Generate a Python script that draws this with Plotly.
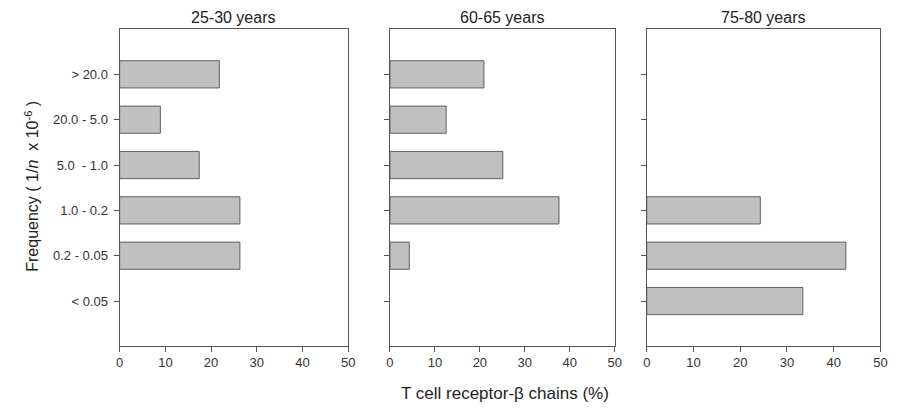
import plotly.graph_objects as go

categories = ["> 20.0", "20.0 - 5.0", "5.0\u00a0 - 1.0", "1.0 - 0.2", "0.2 - 0.05", "< 0.05"]
panel_titles = ["25-30 years", "60-65 years", "75-80 years"]
values_25_30 = [21.8, 8.9, 17.4, 26.3, 26.3, None]
values_60_65 = [20.9, 12.5, 25.1, 37.6, 4.3, None]
values_75_80 = [None, None, None, 24.3, 42.6, 33.4]
x_ticks = [0, 10, 20, 30, 40, 50]

series = [values_25_30, values_60_65, values_75_80]

# page body has an 8px margin on every side: keep the figure inside the window
OFF = 8
W, H = 905 - 2 * OFF, 411 - 2 * OFF
x_domains_px = [(117, 348.5), (390.7, 618.3), (650.7, 887.3)]
y_top_px, y_bot_px = 29, 345.5


def px_x(x):
    return (x - OFF) / W


def px_y(y):
    return 1 - (y - OFF) / H


FONT = "Liberation Sans, Arial, sans-serif"
BAR_FILL = "#c0c0c0"
BAR_LINE = "#606060"
AXIS_COLOR = "#555555"

fig = go.Figure()
layout = dict(
    width=W, height=H,
    margin=dict(l=0, r=0, t=0, b=0),
    paper_bgcolor="white", plot_bgcolor="white",
    showlegend=False,
    font=dict(family=FONT, color="#222222"),
)

annotations = []
for i, vals in enumerate(series):
    sfx = "" if i == 0 else str(i + 1)
    fig.add_trace(go.Bar(
        x=vals, y=categories, orientation="h",
        marker=dict(color=BAR_FILL, line=dict(color=BAR_LINE, width=1)),
        xaxis="x" + sfx, yaxis="y" + sfx, width=0.6,
    ))
    x0, x1 = x_domains_px[i]
    layout["xaxis" + sfx] = dict(
        domain=[px_x(x0), px_x(x1)], anchor="y" + sfx,
        range=[0, 50], tickvals=x_ticks, ticks="outside", ticklen=5,
        tickcolor=AXIS_COLOR, showline=True, linecolor=AXIS_COLOR, linewidth=1.2,
        mirror=True, showgrid=False, zeroline=False,
        tickfont=dict(size=13, color="#333333"),
    )
    layout["yaxis" + sfx] = dict(
        domain=[px_y(y_bot_px), px_y(y_top_px)], anchor="x" + sfx,
        type="category", categoryorder="array", categoryarray=categories,
        range=[5.98, -1.0], ticks="outside", ticklen=5, tickcolor=AXIS_COLOR,
        showline=True, linecolor=AXIS_COLOR, linewidth=1.2, mirror=True,
        showgrid=False, zeroline=False, showticklabels=(i == 0),
        tickfont=dict(size=13, color="#333333"), ticklabelstandoff=3,
    )
    annotations.append(dict(
        text=panel_titles[i], x=px_x((x0 + x1) / 2), y=px_y(17),
        xref="paper", yref="paper", showarrow=False,
        font=dict(size=16, color="#222222"), xanchor="center", yanchor="middle",
    ))

annotations.append(dict(
    text="T cell receptor-\u03b2 chains (%)", x=px_x(507), y=px_y(393),
    xref="paper", yref="paper", showarrow=False,
    font=dict(size=17, color="#222222"), xanchor="center", yanchor="middle",
))
annotations.append(dict(
    text="Frequency ( 1/<i>n</i>\u00a0 x 10<sup>-6</sup> )", x=px_x(28), y=px_y(186),
    xref="paper", yref="paper", showarrow=False, textangle=-90,
    font=dict(size=16, color="#222222"), xanchor="center", yanchor="middle",
))
layout["annotations"] = annotations
fig.update_layout(**layout)
fig.write_html("out.html")
